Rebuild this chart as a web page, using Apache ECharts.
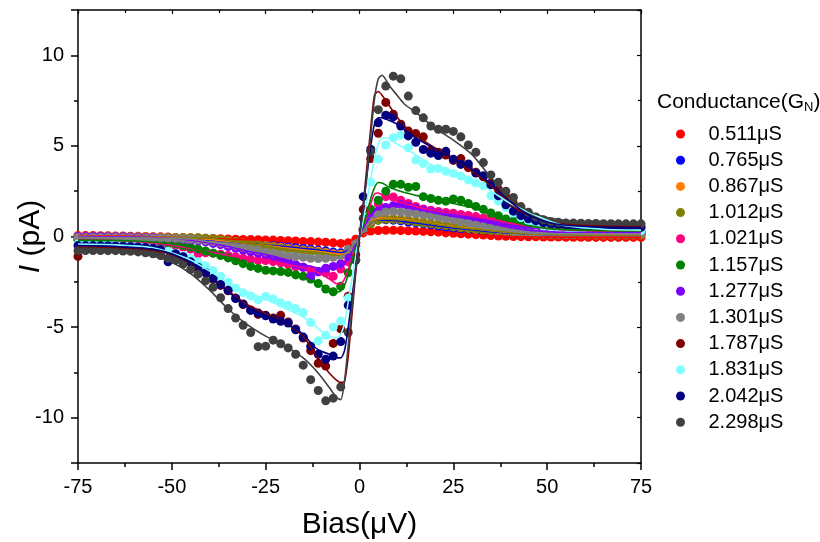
<!DOCTYPE html>
<html><head><meta charset="utf-8">
<script src="https://cdn.jsdelivr.net/npm/echarts@6/dist/echarts.min.js"></script>
<style>html,body{margin:0;padding:0;background:#fff}#c{width:820px;height:542px}</style>
</head><body><div id="c"></div>
<script>
// Bias (µV) of measured points
const bias = [-75,-73,-71,-69,-67,-65,-63,-61,-59,-57,-55,-53,-51,-49,-47,-45,-43,-41,-39,-37,-35,-33,-31,-29,-27,-25,-23,-21,-19,-17,-15,-13,-11,-9,-7,-5,-3,-1,1,3,5,7,9,11,13,15,17,19,21,23,25,27,29,31,33,35,37,39,41,43,45,47,49,51,53,55,57,59,61,63,65,67,69,71,73,75];
// Bias (µV) of fit curves
const fitBias = [-75,-65,-55,-50,-45,-40,-35,-30,-25,-20,-15,-12,-10,-8,-6,-5,-4,-3,-2,-1,0,1,2,3,4,5,6,8,10,12,15,20,25,30,35,40,45,50,55,65,75];

const names = ['0.511μS','0.765μS','0.867μS','1.012μS','1.021μS','1.157μS','1.277μS','1.301μS','1.787μS','1.831μS','2.042μS','2.298μS'];
const colors = ['#ff0000','#0000ff','#ff8000','#808000','#ff0080','#008000','#8000ff','#808080','#800000','#80ffff','#000080','#404040'];

// measured current (pA)
const i0511 = [0.05,0.05,0.05,0.04,0.04,0.03,0.03,0.02,0.01,0.0,-0.01,-0.02,-0.03,-0.05,-0.06,-0.07,-0.08,-0.1,-0.11,-0.12,-0.14,-0.15,-0.16,-0.17,-0.18,-0.19,-0.2,-0.22,-0.23,-0.25,-0.27,-0.28,-0.3,-0.32,-0.35,-0.38,-0.35,-0.15,
  0.2,0.3,0.33,0.34,0.34,0.33,0.32,0.3,0.28,0.26,0.24,0.2,0.18,0.15,0.13,0.1,0.08,0.05,0.03,0.01,0.0,-0.01,-0.02,-0.02,-0.03,-0.03,-0.03,-0.04,-0.04,-0.04,-0.04,-0.05,-0.05,-0.05,-0.05,-0.05,-0.05,-0.05];
const i0765 = [0.0,0.0,-0.01,-0.01,-0.02,-0.02,-0.03,-0.03,-0.04,-0.05,-0.06,-0.07,-0.08,-0.1,-0.11,-0.13,-0.15,-0.18,-0.21,-0.24,-0.28,-0.32,-0.36,-0.4,-0.44,-0.48,-0.51,-0.54,-0.58,-0.62,-0.66,-0.7,-0.75,-0.8,-0.86,-0.9,-0.75,-0.35,
  0.35,0.75,0.9,0.92,0.9,0.86,0.8,0.75,0.7,0.64,0.58,0.52,0.47,0.42,0.38,0.34,0.3,0.26,0.23,0.2,0.18,0.16,0.14,0.13,0.12,0.11,0.11,0.1,0.1,0.1,0.1,0.1,0.1,0.1,0.1,0.1,0.1,0.1];
const i0867 = [0.02,0.02,0.02,0.01,0.01,0.0,0.0,-0.01,-0.01,-0.02,-0.03,-0.04,-0.05,-0.06,-0.08,-0.1,-0.12,-0.15,-0.18,-0.22,-0.26,-0.3,-0.35,-0.4,-0.45,-0.5,-0.55,-0.6,-0.65,-0.7,-0.74,-0.78,-0.82,-0.88,-0.95,-0.98,-0.8,-0.35,
  0.4,0.8,1.0,1.02,1.0,0.97,0.92,0.86,0.8,0.74,0.68,0.62,0.56,0.5,0.45,0.4,0.36,0.32,0.28,0.24,0.2,0.18,0.16,0.14,0.13,0.12,0.12,0.11,0.11,0.1,0.1,0.1,0.1,0.1,0.1,0.1,0.1,0.1];
const i1012 = [0.0,0.0,0.0,-0.01,-0.01,-0.02,-0.02,-0.03,-0.03,-0.04,-0.04,-0.05,-0.05,-0.06,-0.06,-0.07,-0.07,-0.09,-0.12,-0.16,-0.22,-0.28,-0.34,-0.4,-0.46,-0.53,-0.6,-0.66,-0.7,-0.75,-0.8,-0.84,-0.88,-0.95,-1.05,-1.05,-0.85,-0.35,
  0.3,0.7,0.9,0.95,0.95,0.92,0.88,0.8,0.74,0.7,0.65,0.6,0.53,0.48,0.44,0.4,0.36,0.32,0.28,0.24,0.2,0.17,0.15,0.13,0.12,0.11,0.1,0.1,0.09,0.09,0.09,0.08,0.08,0.08,0.08,0.08,0.08,0.08];
const i1021 = [-0.15,-0.15,-0.15,-0.16,-0.16,-0.17,-0.18,-0.2,-0.22,-0.26,-0.3,-0.36,-0.42,-0.5,-0.6,-0.7,-0.95,-0.9,-0.92,-0.98,-1.05,-1.12,-1.2,-1.26,-1.32,-1.33,-1.38,-1.45,-1.55,-1.68,-1.7,-1.85,-1.95,-2.0,-2.2,-1.8,-1.4,-0.5,
  0.4,1.2,1.8,2.2,2.18,2.0,1.82,1.66,1.52,1.45,1.38,1.33,1.28,1.22,1.16,1.1,1.02,0.95,0.88,0.8,0.72,0.65,0.58,0.5,0.45,0.4,0.36,0.33,0.31,0.3,0.29,0.28,0.27,0.27,0.26,0.26,0.25,0.25];
const i1157 = [-0.2,-0.2,-0.2,-0.2,-0.21,-0.21,-0.22,-0.23,-0.24,-0.25,-0.27,-0.3,-0.35,-0.42,-0.5,-0.58,-0.68,-0.8,-0.92,-1.05,-1.18,-1.34,-1.5,-1.65,-1.76,-1.86,-1.9,-1.93,-1.98,-2.12,-2.2,-2.35,-2.6,-2.9,-3.05,-2.75,-2.0,-0.7,
  0.5,1.5,2.0,2.5,2.88,2.88,2.72,2.76,2.2,2.1,2.0,1.95,2.07,2.0,1.82,1.66,1.5,1.3,1.15,0.97,0.85,0.72,0.62,0.55,0.48,0.43,0.4,0.37,0.35,0.34,0.33,0.32,0.31,0.31,0.3,0.3,0.3,0.3];
const i1277 = [0.0,0.0,0.0,0.0,-0.01,-0.01,-0.02,-0.03,-0.04,-0.05,-0.06,-0.08,-0.1,-0.12,-0.15,-0.2,-0.24,-0.3,-0.38,-0.45,-0.55,-0.65,-0.75,-0.84,-0.92,-1.0,-1.1,-1.2,-1.35,-1.55,-1.7,-2.2,-1.95,-1.75,-1.65,-1.5,-1.1,-0.55,
  0.4,1.0,1.4,1.6,1.7,1.75,1.65,1.55,1.45,1.35,1.25,1.18,1.1,1.05,0.98,0.9,0.82,0.72,0.62,0.52,0.45,0.4,0.35,0.3,0.27,0.25,0.24,0.23,0.22,0.22,0.21,0.21,0.2,0.2,0.2,0.2,0.2,0.2];
const i1301 = [-0.05,-0.05,-0.05,-0.05,-0.06,-0.06,-0.07,-0.07,-0.08,-0.08,-0.09,-0.09,-0.1,-0.1,-0.12,-0.14,-0.18,-0.22,-0.28,-0.35,-0.42,-0.5,-0.6,-0.68,-0.76,-0.85,-0.92,-1.0,-1.06,-1.1,-1.15,-1.2,-1.22,-1.2,-1.15,-1.05,-0.7,-0.35,
  0.3,0.85,1.2,1.35,1.38,1.35,1.3,1.25,1.18,1.12,1.06,0.98,0.9,0.82,0.73,0.65,0.56,0.48,0.4,0.33,0.28,0.24,0.2,0.18,0.17,0.16,0.16,0.15,0.15,0.15,0.14,0.14,0.14,0.14,0.13,0.13,0.13,0.13];
const i1787 = [-1.1,-0.55,-0.55,-0.56,-0.57,-0.58,-0.6,-0.61,-0.62,-0.63,-0.68,-0.75,-0.85,-0.98,-1.18,-1.42,-1.72,-2.0,-2.35,-2.7,-3.0,-3.4,-3.75,-4.05,-4.3,-4.35,-4.5,-4.35,-4.72,-5.1,-5.6,-6.3,-7.0,-7.15,-5.9,-5.1,-3.3,-1.0,
  1.5,4.3,5.7,7.4,6.75,6.2,5.82,5.68,5.5,4.76,4.65,4.5,4.2,4.3,3.8,3.55,3.3,2.95,2.6,2.15,1.82,1.45,1.15,0.95,0.8,0.7,0.65,0.6,0.58,0.57,0.56,0.56,0.55,0.55,0.55,0.55,0.55,0.55];
const i1831 = [-0.42,-0.42,-0.43,-0.43,-0.44,-0.44,-0.45,-0.47,-0.5,-0.55,-0.62,-0.72,-0.82,-0.92,-1.05,-1.2,-1.4,-1.62,-1.87,-2.2,-2.52,-2.85,-3.1,-3.28,-3.5,-3.3,-3.45,-3.66,-3.8,-3.98,-4.2,-4.75,-5.75,-5.45,-5.0,-4.67,-3.4,-0.7,
  0.6,3.0,4.27,5.05,5.45,5.6,4.9,4.22,4.03,3.72,3.75,3.6,3.48,3.33,3.12,2.95,2.8,2.25,1.95,1.6,1.3,1.05,0.85,0.7,0.58,0.5,0.45,0.42,0.4,0.38,0.37,0.36,0.35,0.35,0.34,0.34,0.33,0.33];
const i2042 = [-0.5,-0.5,-0.5,-0.5,-0.51,-0.52,-0.53,-0.55,-0.57,-0.6,-0.65,-0.72,-1.4,-0.95,-1.12,-1.4,-1.7,-2.0,-2.3,-2.65,-2.97,-3.42,-3.72,-4.08,-4.22,-4.38,-4.55,-4.68,-4.78,-5.15,-5.55,-6.05,-6.5,-6.78,-6.6,-5.8,-3.8,-1.3,
  2.2,4.8,6.28,6.69,6.6,6.1,5.55,5.2,4.8,4.6,4.47,4.7,4.27,3.98,4.0,3.5,3.35,2.85,2.25,1.75,1.4,1.15,0.98,0.86,0.75,0.68,0.62,0.58,0.55,0.54,0.53,0.52,0.52,0.51,0.51,0.5,0.5,0.5];
const i2298 = [-0.78,-0.77,-0.77,-0.77,-0.78,-0.78,-0.8,-0.82,-0.85,-0.9,-0.95,-1.05,-1.2,-1.3,-1.52,-1.83,-2.08,-2.45,-2.8,-3.38,-3.98,-4.5,-4.9,-5.3,-6.08,-6.05,-5.72,-5.92,-6.15,-6.5,-7.1,-7.9,-8.5,-9.07,-8.92,-8.3,-5.3,-1.3,
  1.0,4.7,7.0,8.3,8.85,8.7,7.75,6.95,6.55,6.1,5.92,5.92,5.8,5.5,5.05,4.65,4.08,3.4,3.0,2.5,2.15,1.65,1.34,1.08,0.92,0.82,0.78,0.75,0.74,0.73,0.72,0.72,0.71,0.71,0.7,0.7,0.7,0.7];

// fitted current (pA)
const f0511 = [0.05,0.03,-0.01,-0.04,-0.07,-0.1,-0.14,-0.17,-0.19,-0.22,-0.27,-0.29,-0.31,-0.34,-0.37,-0.38,-0.36,-0.3,-0.2,-0.1,0,0.12,0.22,0.29,0.32,0.33,0.34,0.34,0.33,0.32,0.3,0.25,0.18,0.12,0.05,0.0,-0.02,-0.03,-0.04,-0.05,-0.05];
const f0765 = [0.0,-0.02,-0.06,-0.08,-0.13,-0.19,-0.28,-0.38,-0.48,-0.56,-0.66,-0.72,-0.77,-0.82,-0.88,-0.9,-0.85,-0.75,-0.55,-0.3,0,0.3,0.55,0.75,0.88,0.9,0.92,0.9,0.87,0.82,0.75,0.61,0.47,0.38,0.26,0.19,0.14,0.12,0.11,0.1,0.1];
const f0867 = [0.02,0.0,-0.03,-0.05,-0.1,-0.16,-0.26,-0.38,-0.5,-0.62,-0.74,-0.8,-0.85,-0.9,-0.96,-0.98,-0.95,-0.8,-0.6,-0.3,0,0.35,0.6,0.8,0.95,1.0,1.02,1.01,0.98,0.95,0.86,0.7,0.56,0.45,0.32,0.22,0.16,0.13,0.12,0.1,0.1];
const f1012 = [0.0,-0.02,-0.04,-0.05,-0.07,-0.1,-0.22,-0.38,-0.53,-0.68,-0.8,-0.86,-0.9,-0.98,-1.05,-1.05,-1.0,-0.85,-0.6,-0.3,0,0.3,0.55,0.75,0.88,0.92,0.95,0.95,0.93,0.9,0.82,0.68,0.53,0.42,0.32,0.22,0.15,0.12,0.1,0.08,0.08];
const f1021 = [-0.15,-0.22,-0.36,-0.48,-0.66,-0.85,-1.05,-1.22,-1.35,-1.5,-1.72,-1.92,-2.1,-2.35,-2.6,-2.6,-2.35,-1.8,-1.1,-0.5,0,0.5,1.1,1.8,2.35,2.4,2.3,2.1,1.95,1.82,1.65,1.42,1.28,1.13,0.95,0.75,0.58,0.45,0.36,0.28,0.25];
const f1157 = [-0.2,-0.22,-0.3,-0.4,-0.6,-0.9,-1.25,-1.6,-1.85,-2.0,-2.28,-2.5,-2.7,-2.95,-3.06,-3.0,-2.7,-2.1,-1.3,-0.6,0,0.6,1.3,2.1,2.7,2.98,2.95,2.72,2.55,2.43,2.27,2.07,1.82,1.6,1.2,0.85,0.6,0.45,0.38,0.32,0.3];
const f1277 = [0.0,-0.01,-0.06,-0.1,-0.2,-0.35,-0.55,-0.8,-1.0,-1.25,-1.55,-1.7,-1.75,-1.75,-1.72,-1.65,-1.5,-1.2,-0.8,-0.4,0,0.4,0.8,1.15,1.45,1.6,1.65,1.68,1.68,1.62,1.52,1.3,1.1,0.95,0.72,0.5,0.35,0.27,0.23,0.21,0.2];
const f1301 = [-0.05,-0.06,-0.09,-0.1,-0.14,-0.3,-0.45,-0.65,-0.85,-1.02,-1.15,-1.2,-1.22,-1.2,-1.15,-1.1,-1.0,-0.8,-0.55,-0.3,0,0.3,0.6,0.9,1.15,1.3,1.35,1.38,1.36,1.32,1.25,1.08,0.9,0.7,0.48,0.3,0.2,0.16,0.15,0.14,0.13];
const f1787 = [-0.55,-0.6,-0.75,-1.0,-1.5,-2.2,-3.0,-3.75,-4.25,-4.75,-5.5,-6.45,-7.0,-7.55,-7.95,-8.05,-8.0,-6.6,-4.3,-2.0,0,1.8,3.9,6.0,7.8,8.0,7.8,7.2,6.6,6.1,5.6,4.9,4.3,3.6,2.8,1.8,1.18,0.85,0.68,0.58,0.55];
const f1831 = [-0.42,-0.46,-0.62,-0.9,-1.3,-1.9,-2.55,-3.1,-3.45,-3.95,-4.45,-4.9,-5.25,-5.5,-5.6,-5.4,-4.8,-3.6,-2.3,-1.1,0,0.9,2.0,3.2,4.3,5.1,5.45,5.4,5.1,4.88,4.5,3.85,3.38,3.07,2.52,1.85,1.35,0.9,0.6,0.4,0.35];
const f2042 = [-0.5,-0.55,-0.7,-0.95,-1.45,-2.2,-3.05,-3.85,-4.35,-4.75,-5.4,-6.1,-6.35,-6.5,-6.7,-6.7,-6.3,-5.0,-3.4,-1.7,0,1.7,3.4,5.0,6.2,6.55,6.55,6.4,6.2,5.9,5.45,4.85,4.3,3.7,2.9,1.95,1.2,0.8,0.62,0.52,0.5];
const f2298 = [-0.75,-0.82,-1.08,-1.42,-2.05,-2.95,-4.0,-4.85,-5.5,-6.02,-6.7,-7.3,-7.8,-8.35,-8.9,-9.0,-8.0,-6.0,-3.9,-1.8,0,1.5,3.5,5.6,7.6,8.7,8.9,8.3,7.8,7.3,6.85,6.0,5.32,4.52,3.25,2.1,1.4,1.05,0.88,0.76,0.72];

const pointSets = [i0511,i0765,i0867,i1012,i1021,i1157,i1277,i1301,i1787,i1831,i2042,i2298];
const fitSets = [f0511,f0765,f0867,f1012,f1021,f1157,f1277,f1301,f1787,f1831,f2042,f2298];

const FONT = '"Liberation Sans", Arial, Helvetica, sans-serif';
const chart = echarts.init(document.getElementById('c'), null, {renderer: 'canvas'});

const scatterSeries = names.map((n, k) => ({
  name: n, type: 'scatter', symbol: 'circle', symbolSize: 9,
  itemStyle: {color: colors[k], opacity: 1},
  data: bias.map((b, i) => [b, pointSets[k][i]]),
  z: 2, animation: false
}));
const fitSeries = names.map((n, k) => ({
  name: 'fit ' + n, type: 'line', showSymbol: false, symbol: 'none',
  lineStyle: {color: colors[k], width: 1.6},
  data: fitBias.map((b, i) => [b, fitSets[k][i]]),
  smooth: 0.25, z: 3, silent: true, animation: false
}));

const labelFmt = v => (Math.abs(v % 5) < 1e-9 ? String(v) : '');
const frameLine = {show: true, onZero: false, lineStyle: {color: '#000', width: 1.5}};

chart.setOption({
  animation: false,
  backgroundColor: '#fff',
  title: {
    text: 'Conductance(G{s|N})', left: 657, top: 91, padding: 0,
    textStyle: {fontSize: 21, fontWeight: 'normal', color: '#000', fontFamily: FONT,
      rich: {s: {fontSize: 13, color: '#000', fontFamily: FONT, padding: [10, 0, 0, 0]}}}
  },
  legend: {
    data: names, orient: 'vertical', left: 676, top: 124, padding: 0,
    itemGap: 6.2, itemWidth: 46, itemHeight: 9, icon: 'circle',
    textStyle: {fontSize: 20, lineHeight: 20, color: '#000', fontFamily: FONT},
    selectedMode: false
  },
  grid: {left: 78, right: 179, top: 10, bottom: 79, containLabel: false, outerBoundsMode: 'none'},
  xAxis: [{
    type: 'value', min: -75, max: 75, interval: 25, position: 'bottom',
    axisLine: frameLine,
    axisTick: {show: true, inside: false, length: 7, lineStyle: {color: '#000', width: 1.5}},
    minorTick: {show: true, splitNumber: 2, length: 4, lineStyle: {color: '#000', width: 1.5}},
    splitLine: {show: false}, minorSplitLine: {show: false},
    axisLabel: {fontSize: 20, color: '#000', fontFamily: FONT, margin: 14},
    name: 'Bias(μV)', nameLocation: 'middle', nameGap: 47, nameMoveOverlap: false,
    nameTextStyle: {fontSize: 30, color: '#000', fontFamily: FONT}
  }, {
    type: 'value', min: -75, max: 75, interval: 25, position: 'top',
    axisLine: frameLine,
    axisTick: {show: true, inside: true, length: 4, lineStyle: {color: '#000', width: 1.2}},
    minorTick: {show: true, splitNumber: 2, length: 3, lineStyle: {color: '#000', width: 1.2}},
    splitLine: {show: false}, axisLabel: {show: false}
  }],
  yAxis: [{
    type: 'value', min: -12.5, max: 12.5, splitNumber: 5, position: 'left',
    axisLine: frameLine,
    axisTick: {show: true, inside: false, length: 7, lineStyle: {color: '#000', width: 1.5}},
    minorTick: {show: true, splitNumber: 2, length: 4, lineStyle: {color: '#000', width: 1.5}},
    splitLine: {show: false}, minorSplitLine: {show: false},
    axisLabel: {fontSize: 20, color: '#000', fontFamily: FONT, margin: 14, formatter: labelFmt},
    name: '{i|I} (pA)', nameLocation: 'middle', nameGap: 32, nameMoveOverlap: false,
    nameTextStyle: {fontSize: 30, color: '#000', fontFamily: FONT,
      rich: {i: {fontSize: 30, fontStyle: 'italic', color: '#000', fontFamily: FONT}}}
  }, {
    type: 'value', min: -12.5, max: 12.5, splitNumber: 5, position: 'right',
    axisLine: frameLine,
    axisTick: {show: true, inside: true, length: 4, lineStyle: {color: '#000', width: 1.2}},
    minorTick: {show: true, splitNumber: 2, length: 3, lineStyle: {color: '#000', width: 1.2}},
    splitLine: {show: false}, axisLabel: {show: false}
  }],
  series: scatterSeries.concat(fitSeries)
});
</script></body></html>
